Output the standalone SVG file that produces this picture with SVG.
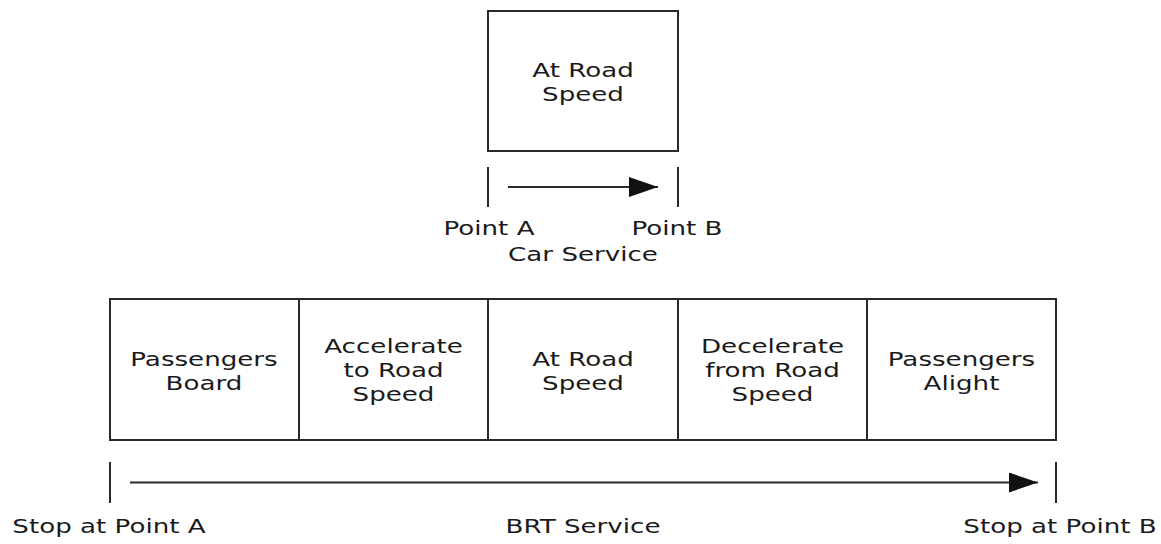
<svg xmlns="http://www.w3.org/2000/svg" width="1161" height="544" viewBox="0 0 1161 544">
<defs>
<style>
.box{fill:#fff;stroke:#2a2a2a;stroke-width:2}
.tick,.conn{stroke:#2a2a2a;stroke-width:2;fill:none}
text{font-family:"DejaVu Sans","Verdana",sans-serif;font-size:19.5px;fill:#1a1a1a;text-anchor:middle}
</style>
<marker id="arr" markerUnits="userSpaceOnUse" markerWidth="30" markerHeight="20" refX="29" refY="10" orient="auto">
<path d="M0,0 L29,10 L0,20 Z" fill="#111"/>
</marker>
</defs>
<rect width="1161" height="544" fill="#fff"/>

<g id="car-road-speed">
<rect class="box" x="488" y="11" width="190" height="140"/>
<text transform="translate(583,77) scale(1.34,1)">At Road</text>
<text transform="translate(583,101) scale(1.34,1)">Speed</text>
</g>

<g id="car-labels">
<text transform="translate(489,235) scale(1.34,1)">Point A</text>
<text transform="translate(677,235) scale(1.34,1)">Point B</text>
<text transform="translate(583,261) scale(1.34,1)">Car Service</text>
</g>

<g id="brt-board">
<rect class="box" x="110" y="299" width="189" height="141"/>
<text transform="translate(204,366) scale(1.34,1)">Passengers</text>
<text transform="translate(204,390) scale(1.34,1)">Board</text>
</g>
<g id="brt-accelerate">
<rect class="box" x="299" y="299" width="189" height="141"/>
<text transform="translate(393.5,353) scale(1.34,1)">Accelerate</text>
<text transform="translate(393.5,377) scale(1.34,1)">to Road</text>
<text transform="translate(393.5,401) scale(1.34,1)">Speed</text>
</g>
<g id="brt-road-speed">
<rect class="box" x="488" y="299" width="190" height="141"/>
<text transform="translate(583,366) scale(1.34,1)">At Road</text>
<text transform="translate(583,390) scale(1.34,1)">Speed</text>
</g>
<g id="brt-decelerate">
<rect class="box" x="678" y="299" width="189" height="141"/>
<text transform="translate(772.5,353) scale(1.34,1)">Decelerate</text>
<text transform="translate(772.5,377) scale(1.34,1)">from Road</text>
<text transform="translate(772.5,401) scale(1.34,1)">Speed</text>
</g>
<g id="brt-alight">
<rect class="box" x="867" y="299" width="189" height="141"/>
<text transform="translate(961.5,366) scale(1.34,1)">Passengers</text>
<text transform="translate(961.5,390) scale(1.34,1)">Alight</text>
</g>

<g id="brt-labels">
<text transform="translate(109,533) scale(1.34,1)">Stop at Point A</text>
<text transform="translate(583,533) scale(1.34,1)">BRT Service</text>
<text transform="translate(1060,533) scale(1.34,1)">Stop at Point B</text>
</g>

<g id="connectors">
<line class="tick" x1="488" y1="167" x2="488" y2="207"/>
<line class="tick" x1="678" y1="167" x2="678" y2="207"/>
<line class="conn" x1="508" y1="187" x2="658" y2="187" marker-end="url(#arr)"/>
<line class="tick" x1="110" y1="462" x2="110" y2="503"/>
<line class="tick" x1="1056" y1="462" x2="1056" y2="503"/>
<line class="conn" x1="130" y1="482.5" x2="1038" y2="482.5" marker-end="url(#arr)"/>
</g>
</svg>
